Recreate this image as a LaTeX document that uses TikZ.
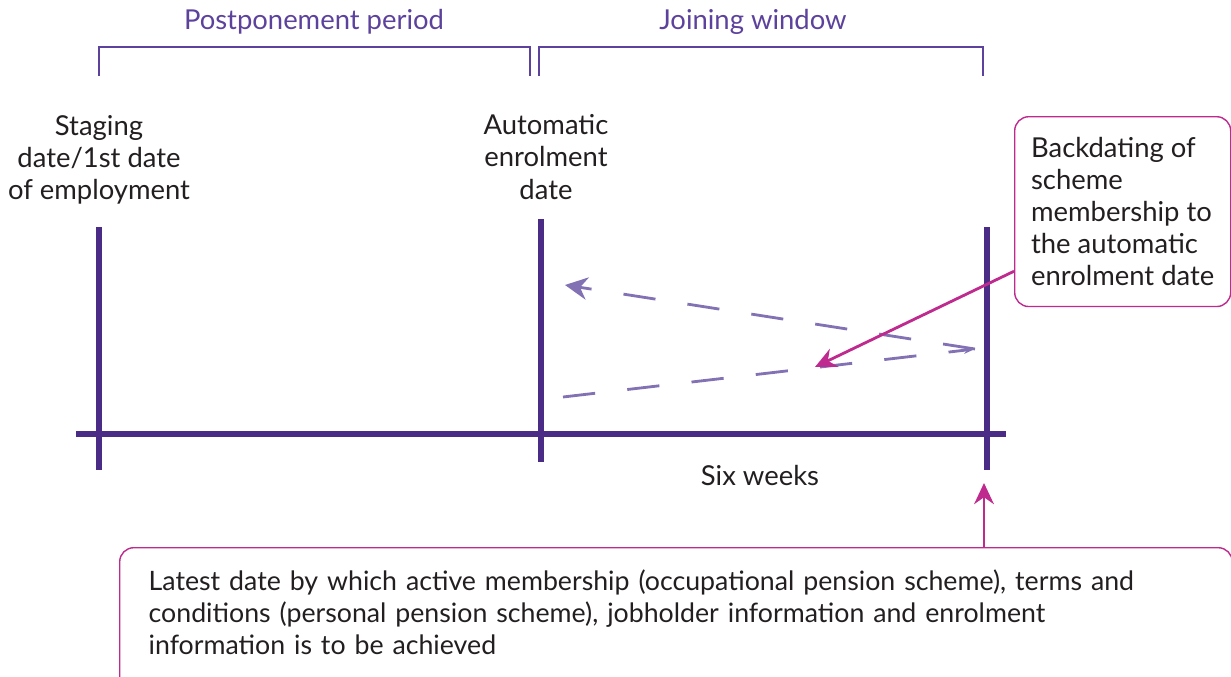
\documentclass[tikz,border=0pt]{standalone}
\usepackage{fontspec}
\setmainfont{Lato}
\usetikzlibrary{arrows.meta}
\definecolor{barpurple}{HTML}{4A2C86}
\definecolor{titlepurple}{HTML}{5C429C}
\definecolor{dashpurple}{HTML}{8272B4}
\definecolor{callpink}{HTML}{BE2A8E}
\definecolor{txtgrey}{HTML}{231F20}

\begin{document}
\begin{tikzpicture}[x=0.025cm,y=-0.025cm,
    bar/.style={barpurple,line width=3.6pt},
    bracket/.style={titlepurple,line width=1pt},
    dashline/.style={dashpurple,line width=2pt,dash pattern=on 23pt off 23pt},
    callbox/.style={draw=callpink,line width=1pt,rounded corners=10pt,anchor=north west,align=left,text=txtgrey},
    callarrow/.style={callpink,line width=2pt,-{Stealth[length=15pt,width=14pt]}},
    lbl/.style={text=txtgrey,align=center,font=\fontsize{19.5}{22.8}\selectfont},
    title/.style={text=titlepurple,font=\fontsize{19.5}{22.8}\selectfont}
    ]
    \useasboundingbox (0,0) rectangle (1231,677);
    \clip (0,0) rectangle (1231,677);

    % period brackets
    \node[title] (postpone) at (314,22) {Postponement period};
    \node[title] (joining) at (753,22) {Joining window};
    \draw[bracket] (99,76) |- (530,47) -- (530,76);
    \draw[bracket] (539,76) |- (983,47) -- (983,76);

    % time line
    \coordinate (start) at (99,227);
    \coordinate (aedate) at (541,219);
    \coordinate (lastday) at (987,227);
    \draw[bar] (76,434) -- (1006,434);
    \draw[bar] (start) -- (99,470);
    \draw[bar] (aedate) -- (541,462);
    \draw[bar] (lastday) -- (987,470);

    \node[lbl] (staging) at (99,160) {Staging\\date/1st date\\of employment};
    \node[lbl] (automatic) at (546,157) {Automatic\\enrolment\\date};
    \node[lbl] (sixweeks) at (760,476) {Six weeks};

    % backdating
    \coordinate (meet) at (975,349);
    \coordinate (backtip) at (565,285);
    \coordinate (lowstart) at (563,397);
    \draw[dashline,-{Stealth[length=16pt,width=16pt]}] (meet) -- (backtip);
    \draw[dashline,-{Stealth[length=8pt,width=5pt]}] (lowstart) -- (meet);

    % callouts
    \node[callbox,minimum width=153.6pt,minimum height=135pt,inner xsep=11pt,font=\fontsize{19.5}{22.8}\selectfont] (backdate) at (1014,116)
        {Backdating of\\scheme\\membership to\\the automatic\\enrolment date};
    \coordinate (bdtip) at (815,367);
    \draw[callarrow] ([yshift=25.6pt]backdate.south west) -- (bdtip);

    \node[callbox,text width=750pt,inner xsep=20.6pt,inner ysep=15.4pt,text depth=70pt,font=\fontsize{19}{22.8}\selectfont] (latest) at (119,547)
        {Latest date by which active membership (occupational pension scheme), terms and\\conditions (personal pension scheme), jobholder information and enrolment\\information is to be achieved};
    \coordinate (lasttip) at (984,483);
    \draw[callarrow] (latest.north -| lasttip) -- (lasttip);
\end{tikzpicture}
\end{document}
